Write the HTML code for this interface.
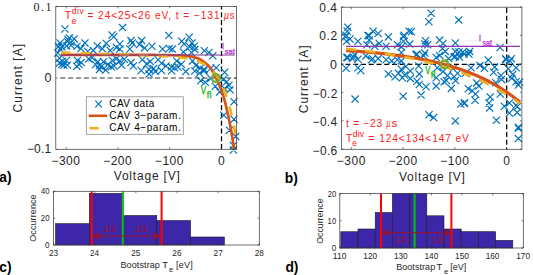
<!DOCTYPE html>
<html><head><meta charset="utf-8"><style>
html,body{margin:0;padding:0;background:#fff;width:533px;height:275px;overflow:hidden}
svg{display:block;font-family:"Liberation Sans", sans-serif}
</style></head><body>
<svg width="533" height="275" viewBox="0 0 533 275">
<defs><clipPath id="ca"><rect x="55.7" y="6.6" width="180.7" height="142.7"/></clipPath><clipPath id="cb"><rect x="341.5" y="7" width="180.8" height="142.3"/></clipPath></defs>
<line x1="58" y1="78" x2="236.4" y2="78" stroke="#7a7a7a" stroke-width="1.4" stroke-dasharray="5.1 2.8" stroke-dashoffset="5.7"/>
<line x1="221.5" y1="6.4" x2="221.5" y2="149.3" stroke="#000" stroke-width="1.25" stroke-dasharray="5 2.75" stroke-dashoffset="1.9"/>
<path d="M61.3 25.4L68.5 32.6M61.3 32.6L68.5 25.4M108.4 31.4L115.6 38.6M108.4 38.6L115.6 31.4M56.5 39.3L63.7 46.5M56.5 46.5L63.7 39.3M64.4 35.9L71.6 43.1M64.4 43.1L71.6 35.9M70.6 35.3L77.8 42.5M70.6 42.5L77.8 35.3M81.3 39.3L88.5 46.5M81.3 46.5L88.5 39.3M93.7 42.1L100.9 49.3M93.7 49.3L100.9 42.1M102.7 39.8L109.9 47M102.7 47L109.9 39.8M58.2 43.2L65.4 50.4M58.2 50.4L65.4 43.2M67.2 38.7L74.4 45.9M67.2 45.9L74.4 38.7M73.4 42.6L80.6 49.8M73.4 49.8L80.6 42.6M77.4 44.9L84.6 52.1M77.4 52.1L84.6 44.9M57 45.7L64.2 52.9M57 52.9L64.2 45.7M98.8 45.1L106 52.3M98.8 52.3L106 45.1M106.6 46.8L113.8 54M106.6 54L113.8 46.8M89.7 46.8L96.9 54M89.7 54L96.9 46.8M84.1 47.9L91.3 55.1M84.1 55.1L91.3 47.9M55.9 54.7L63.1 61.9M55.9 61.9L63.1 54.7M62.7 56.9L69.9 64.1M62.7 64.1L69.9 56.9M58.2 60.9L65.4 68.1M58.2 68.1L65.4 60.9M63.8 61.4L71 68.6M63.8 68.6L71 61.4M73.9 56.9L81.1 64.1M73.9 64.1L81.1 56.9M75.6 60.9L82.8 68.1M75.6 68.1L82.8 60.9M85.2 55.3L92.4 62.5M85.2 62.5L92.4 55.3M88.6 54.1L95.8 61.3M88.6 61.3L95.8 54.1M94.2 58.1L101.4 65.3M94.2 65.3L101.4 58.1M99.9 58.1L107.1 65.3M99.9 65.3L107.1 58.1M104.4 60.9L111.6 68.1M104.4 68.1L111.6 60.9M108.9 56.9L116.1 64.1M108.9 64.1L116.1 56.9M95.9 62L103.1 69.2M95.9 69.2L103.1 62M55.9 59.4L63.1 66.6M55.9 66.6L63.1 59.4M92 60.9L99.2 68.1M92 68.1L99.2 60.9M97.6 63.2L104.8 70.4M97.6 70.4L104.8 63.2M102.1 66.5L109.3 73.7M102.1 73.7L109.3 66.5M107.8 63.2L115 70.4M107.8 70.4L115 63.2M95.9 66L103.1 73.2M95.9 73.2L103.1 66M63.8 37.8L71 45M63.8 45L71 37.8M119 24L126.2 31.2M119 31.2L126.2 24M165.2 31.9L172.4 39.1M165.2 39.1L172.4 31.9M127.4 37L134.6 44.2M127.4 44.2L134.6 37M138.1 37L145.3 44.2M138.1 44.2L145.3 37M116.2 40.4L123.4 47.6M116.2 47.6L123.4 40.4M135.9 40.9L143.1 48.1M135.9 48.1L143.1 40.9M148.3 42.6L155.5 49.8M148.3 49.8L155.5 42.6M128.6 39.3L135.8 46.5M128.6 46.5L135.8 39.3M141 44.3L148.2 51.5M141 51.5L148.2 44.3M159 45.4L166.2 52.6M159 52.6L166.2 45.4M165.8 44.9L173 52.1M165.8 52.1L173 44.9M116.2 45.4L123.4 52.6M116.2 52.6L123.4 45.4M126.3 45.4L133.5 52.6M126.3 52.6L133.5 45.4M112.8 43.8L120 51M112.8 51L120 43.8M112.8 55.1L120 62.3M112.8 62.3L120 55.1M116.2 57.3L123.4 64.5M116.2 64.5L123.4 57.3M120.7 55.6L127.9 62.8M120.7 62.8L127.9 55.6M127.4 59L134.6 66.2M127.4 66.2L134.6 59M129.7 62.4L136.9 69.6M129.7 69.6L136.9 62.4M110.5 62.4L117.7 69.6M110.5 69.6L117.7 62.4M138.7 56.2L145.9 63.4M138.7 63.4L145.9 56.2M143.2 60.1L150.4 67.3M143.2 67.3L150.4 60.1M146.6 57.9L153.8 65.1M146.6 65.1L153.8 57.9M154.5 56.2L161.7 63.4M154.5 63.4L161.7 56.2M157.9 59.6L165.1 66.8M157.9 66.8L165.1 59.6M162.4 62.4L169.6 69.6M162.4 69.6L169.6 62.4M137.6 66.9L144.8 74.1M137.6 74.1L144.8 66.9M145.4 65.8L152.6 73M145.4 73L152.6 65.8M151.7 68L158.9 75.2M151.7 75.2L158.9 68M157.9 66.9L165.1 74.1M157.9 74.1L165.1 66.9M168 63.5L175.2 70.7M168 70.7L175.2 63.5M117.9 61.5L125.1 68.7M117.9 68.7L125.1 61.5M145.5 70.5L152.7 77.7M145.5 77.7L152.7 70.5M150 64.9L157.2 72.1M150 72.1L157.2 64.9M168 67.2L175.2 74.4M168 74.4L175.2 67.2M185.6 33.6L192.8 40.8M185.6 40.8L192.8 33.6M178.2 37.6L185.4 44.8M178.2 44.8L185.4 37.6M180.5 40.4L187.7 47.6M180.5 47.6L187.7 40.4M188.4 39.3L195.6 46.5M188.4 46.5L195.6 39.3M186.1 43.2L193.3 50.4M186.1 50.4L193.3 43.2M190.6 42.6L197.8 49.8M190.6 49.8L197.8 42.6M168.7 45.5L175.9 52.7M168.7 52.7L175.9 45.5M200.8 47.1L208 54.3M200.8 54.3L208 47.1M179.9 48.3L187.1 55.5M179.9 55.5L187.1 48.3M191.2 46L198.4 53.2M191.2 53.2L198.4 46M205.3 48.9L212.5 56.1M205.3 56.1L212.5 48.9M209.2 52.2L216.4 59.4M209.2 59.4L216.4 52.2M187.8 48.9L195 56.1M187.8 56.1L195 48.9M173.2 57.3L180.4 64.5M173.2 64.5L180.4 57.3M177.7 60.7L184.9 67.9M177.7 67.9L184.9 60.7M170.9 64.1L178.1 71.3M170.9 71.3L178.1 64.1M188.9 57.3L196.1 64.5M188.9 64.5L196.1 57.3M192.3 61.8L199.5 69M192.3 69L199.5 61.8M196.8 64.6L204 71.8M196.8 71.8L204 64.6M191.2 67.4L198.4 74.6M191.2 74.6L198.4 67.4M200.2 67.4L207.4 74.6M200.2 74.6L207.4 67.4M212.6 64.1L219.8 71.3M212.6 71.3L219.8 64.1M221.1 68.6L228.3 75.8M221.1 75.8L228.3 68.6M182.2 68L189.4 75.2M182.2 75.2L189.4 68M195.9 69.7L203.1 76.9M195.9 76.9L203.1 69.7M200.4 65.8L207.6 73M200.4 73L207.6 65.8M207.2 64.7L214.4 71.9M207.2 71.9L214.4 64.7M197.1 77.1L204.3 84.3M197.1 84.3L204.3 77.1M201.6 78.7L208.8 85.9M201.6 85.9L208.8 78.7M207.2 74.8L214.4 82M207.2 82L214.4 74.8M211.7 82.7L218.9 89.9M211.7 89.9L218.9 82.7M219.6 75.9L226.8 83.1M219.6 83.1L226.8 75.9M223 78.2L230.2 85.4M223 85.4L230.2 78.2M225.3 81.6L232.5 88.8M225.3 88.8L232.5 81.6M220.8 84.9L228 92.1M220.8 92.1L228 84.9M226.4 86.1L233.6 93.3M226.4 93.3L233.6 86.1M216.2 88.3L223.4 95.5M216.2 95.5L223.4 88.3M174.4 63.4L181.6 70.6M174.4 70.6L181.6 63.4M230.4 98.2L237.6 105.4M230.4 105.4L237.6 98.2M220.2 111.7L227.4 118.9M220.2 118.9L227.4 111.7M230.4 115.6L237.6 122.8M230.4 122.8L237.6 115.6M225.9 126.6L233.1 133.8M225.9 133.8L233.1 126.6M232.1 132.8L239.3 140M232.1 140L239.3 132.8M229.8 141.8L237 149M229.8 149L237 141.8M229.8 146.4L237 153.6M229.8 153.6L237 146.4M65.9 34.3L73.1 41.5M65.9 41.5L73.1 34.3M63 42.3L70.2 49.5M63 49.5L70.2 42.3M58.7 57.6L65.9 64.8M58.7 64.8L65.9 57.6M60.1 61.4L67.3 68.6M60.1 68.6L67.3 61.4M77.6 59L84.8 66.2M77.6 66.2L84.8 59M73.2 62.7L80.4 69.9M73.2 69.9L80.4 62.7M54.2 49.4L61.4 56.6M54.2 56.6L61.4 49.4M55 43L62.2 50.2M55 50.2L62.2 43M67.4 41.6L74.6 48.8M67.4 48.8L74.6 41.6M110.2 33.2L117.4 40.4M110.2 40.4L117.4 33.2" stroke="#0072bd" stroke-width="1.2" fill="none"/>
<g clip-path="url(#ca)"><path d="M61 54.9L61.5 54.9L62 54.9L62.5 54.9L63 54.9L63.5 54.9L64 54.9L64.5 54.9L65 54.9L65.5 54.9L66 54.9L66.5 54.9L67 54.9L67.5 54.9L68 54.9L68.5 54.9L69 54.9L69.5 54.9L70 54.9L70.5 54.9L71 54.9L71.5 54.9L72 54.9L72.5 54.9L73 54.9L73.5 54.9L74 54.9L74.5 54.9L75 54.9L75.5 54.9L76 54.9L76.5 54.9L77 54.9L77.5 54.9L78 54.9L78.5 54.9L79 54.9L79.5 54.9L80 54.9L80.5 54.9L81 54.9L81.5 54.9L82 54.9L82.5 54.9L83 54.9L83.5 54.9L84 54.9L84.5 54.9L85 54.9L85.5 54.9L86 54.9L86.5 54.9L87 54.9L87.5 54.9L88 54.9L88.5 54.9L89 54.9L89.5 54.9L90 54.9L90.5 54.9L91 54.9L91.5 54.9L92 54.9L92.5 54.9L93 54.91L93.5 54.91L94 54.91L94.5 54.91L95 54.91L95.5 54.91L96 54.91L96.5 54.91L97 54.91L97.5 54.91L98 54.91L98.5 54.91L99 54.91L99.5 54.91L100 54.91L100.5 54.91L101 54.91L101.5 54.91L102 54.91L102.5 54.91L103 54.91L103.5 54.91L104 54.91L104.5 54.91L105 54.91L105.5 54.91L106 54.91L106.5 54.91L107 54.91L107.5 54.91L108 54.91L108.5 54.91L109 54.91L109.5 54.91L110 54.91L110.5 54.91L111 54.91L111.5 54.91L112 54.91L112.5 54.91L113 54.91L113.5 54.92L114 54.92L114.5 54.92L115 54.92L115.5 54.92L116 54.92L116.5 54.92L117 54.92L117.5 54.92L118 54.92L118.5 54.92L119 54.92L119.5 54.92L120 54.92L120.5 54.92L121 54.92L121.5 54.92L122 54.92L122.5 54.92L123 54.92L123.5 54.92L124 54.92L124.5 54.92L125 54.92L125.5 54.92L126 54.92L126.5 54.92L127 54.93L127.5 54.93L128 54.93L128.5 54.93L129 54.93L129.5 54.93L130 54.93L130.5 54.93L131 54.93L131.5 54.93L132 54.93L132.5 54.93L133 54.93L133.5 54.93L134 54.93L134.5 54.93L135 54.93L135.5 54.93L136 54.93L136.5 54.93L137 54.93L137.5 54.94L138 54.94L138.5 54.94L139 54.94L139.5 54.94L140 54.94L140.5 54.94L141 54.94L141.5 54.94L142 54.94L142.5 54.94L143 54.94L143.5 54.94L144 54.94L144.5 54.94L145 54.94L145.5 54.94L146 54.94L146.5 54.95L147 54.95L147.5 54.95L148 54.95L148.5 54.95L149 54.95L149.5 54.95L150 54.95L150.5 54.95L151 54.95L151.5 54.95L152 54.96L152.5 54.96L153 54.96L153.5 54.96L154 54.96L154.5 54.97L155 54.97L155.5 54.98L156 54.98L156.5 54.98L157 54.99L157.5 54.99L158 55L158.5 55L159 55.01L159.5 55.01L160 55.02L160.5 55.03L161 55.03L161.5 55.04L162 55.05L162.5 55.05L163 55.06L163.5 55.07L164 55.08L164.5 55.09L165 55.09L165.5 55.1L166 55.11L166.5 55.12L167 55.13L167.5 55.14L168 55.15L168.5 55.16L169 55.17L169.5 55.18L170 55.19L170.5 55.2L171 55.21L171.5 55.22L172 55.23L172.5 55.24L173 55.25L173.5 55.26L174 55.28L174.5 55.29L175 55.3L175.5 55.31L176 55.33L176.5 55.34L177 55.36L177.5 55.38L178 55.39L178.5 55.41L179 55.44L179.5 55.46L180 55.48L180.5 55.51L181 55.54L181.5 55.56L182 55.59L182.5 55.62L183 55.66L183.5 55.69L184 55.73L184.5 55.76L185 55.8L185.5 55.84L186 55.89L186.5 55.94L187 55.99L187.5 56.05L188 56.11L188.5 56.18L189 56.25L189.5 56.33L190 56.41L190.5 56.49L191 56.58L191.5 56.67L192 56.77L192.5 56.87L193 56.98L193.5 57.09L194 57.21L194.5 57.33L195 57.45L195.5 57.58L196 57.72L196.5 57.86L197 58L197.5 58.16L198 58.34L198.5 58.55L199 58.79L199.5 59.04L200 59.32L200.5 59.61L201 59.92L201.5 60.25L202 60.59L202.5 60.94L203 61.3L203.5 61.67L204 62.05L204.5 62.43L205 62.82L205.5 63.21L206 63.6L206.5 64L207 64.42L207.5 64.86L208 65.33L208.5 65.83L209 66.35L209.5 66.91L210 67.5L210.5 68.14L211 68.83L211.5 69.57L212 70.36L212.5 71.19L213 72.05L213.5 72.95L214 73.88L214.5 74.83L215 75.81L215.5 76.8L216 77.8L216.5 78.81L217 79.85L217.5 80.91L218 81.99L218.5 83.11L219 84.25L219.5 85.44L220 86.66L220.5 87.93L221 89.24L221.5 90.6L222 92.01L222.5 93.47L223 95L223.5 96.6L224 98.3L224.5 100.08L225 101.94L225.5 103.89L226 105.91L226.5 108.01L227 110.18L227.5 112.42L228 114.71L228.5 117.07L229 119.49L229.5 121.95L230 124.47L230.5 127.04L231 129.78L231.5 132.68L232 135.72L232.5 138.88L233 142.13L233.5 145.44L234 148.8L234.5 152.32L235 156" stroke="#d95319" stroke-width="2.7" fill="none"/><path d="M61 52.5L61.5 52.52L62 52.53L62.5 52.55L63 52.57L63.5 52.58L64 52.6L64.5 52.62L65 52.63L65.5 52.65L66 52.67L66.5 52.68L67 52.7L67.5 52.71L68 52.73L68.5 52.75L69 52.76L69.5 52.78L70 52.8L70.5 52.81L71 52.83L71.5 52.85L72 52.86L72.5 52.88L73 52.9L73.5 52.91L74 52.93L74.5 52.95L75 52.96L75.5 52.98L76 53L76.5 53.01L77 53.03L77.5 53.04L78 53.06L78.5 53.08L79 53.09L79.5 53.11L80 53.13L80.5 53.14L81 53.16L81.5 53.18L82 53.19L82.5 53.21L83 53.23L83.5 53.24L84 53.26L84.5 53.28L85 53.29L85.5 53.31L86 53.33L86.5 53.34L87 53.36L87.5 53.38L88 53.39L88.5 53.41L89 53.42L89.5 53.44L90 53.46L90.5 53.47L91 53.49L91.5 53.51L92 53.52L92.5 53.54L93 53.56L93.5 53.57L94 53.59L94.5 53.61L95 53.62L95.5 53.64L96 53.66L96.5 53.67L97 53.69L97.5 53.71L98 53.72L98.5 53.74L99 53.76L99.5 53.77L100 53.79L100.5 53.81L101 53.82L101.5 53.84L102 53.86L102.5 53.87L103 53.89L103.5 53.91L104 53.92L104.5 53.94L105 53.96L105.5 53.97L106 53.99L106.5 54.01L107 54.02L107.5 54.04L108 54.06L108.5 54.07L109 54.09L109.5 54.11L110 54.12L110.5 54.14L111 54.16L111.5 54.17L112 54.19L112.5 54.21L113 54.22L113.5 54.24L114 54.26L114.5 54.27L115 54.29L115.5 54.31L116 54.32L116.5 54.34L117 54.36L117.5 54.37L118 54.39L118.5 54.41L119 54.42L119.5 54.44L120 54.46L120.5 54.47L121 54.49L121.5 54.51L122 54.53L122.5 54.54L123 54.56L123.5 54.58L124 54.59L124.5 54.61L125 54.63L125.5 54.64L126 54.66L126.5 54.68L127 54.7L127.5 54.71L128 54.73L128.5 54.75L129 54.77L129.5 54.78L130 54.8L130.5 54.82L131 54.83L131.5 54.85L132 54.87L132.5 54.89L133 54.9L133.5 54.92L134 54.94L134.5 54.96L135 54.98L135.5 54.99L136 55.01L136.5 55.03L137 55.05L137.5 55.07L138 55.08L138.5 55.1L139 55.12L139.5 55.14L140 55.16L140.5 55.17L141 55.19L141.5 55.21L142 55.23L142.5 55.25L143 55.27L143.5 55.29L144 55.31L144.5 55.33L145 55.34L145.5 55.36L146 55.38L146.5 55.4L147 55.42L147.5 55.44L148 55.46L148.5 55.48L149 55.5L149.5 55.52L150 55.54L150.5 55.56L151 55.59L151.5 55.61L152 55.63L152.5 55.65L153 55.67L153.5 55.69L154 55.71L154.5 55.74L155 55.76L155.5 55.78L156 55.8L156.5 55.83L157 55.85L157.5 55.87L158 55.9L158.5 55.92L159 55.95L159.5 55.97L160 56L160.5 56.02L161 56.05L161.5 56.07L162 56.1L162.5 56.13L163 56.16L163.5 56.18L164 56.21L164.5 56.24L165 56.27L165.5 56.3L166 56.33L166.5 56.36L167 56.39L167.5 56.42L168 56.46L168.5 56.49L169 56.52L169.5 56.56L170 56.59L170.5 56.63L171 56.67L171.5 56.7L172 56.74L172.5 56.78L173 56.82L173.5 56.86L174 56.9L174.5 56.95L175 56.99L175.5 57.04L176 57.08L176.5 57.13L177 57.18L177.5 57.23L178 57.28L178.5 57.33L179 57.39L179.5 57.44L180 57.5L180.5 57.56L181 57.62L181.5 57.68L182 57.74L182.5 57.81L183 57.88L183.5 57.95L184 58.02L184.5 58.09L185 58.17L185.5 58.25L186 58.33L186.5 58.41L187 58.5L187.5 58.58L188 58.68L188.5 58.77L189 58.87L189.5 58.97L190 59.07L190.5 59.18L191 59.29L191.5 59.4L192 59.52L192.5 59.64L193 59.77L193.5 59.9L194 60.04L194.5 60.18L195 60.32L195.5 60.47L196 60.63L196.5 60.79L197 60.95L197.5 61.13L198 61.3L198.5 61.49L199 61.68L199.5 61.88L200 62.08L200.5 62.29L201 62.51L201.5 62.74L202 62.98L202.5 63.22L203 63.48L203.5 63.74L204 64.01L204.5 64.3L205 64.59L205.5 64.89L206 65.21L206.5 65.54L207 65.88L207.5 66.23L208 66.59L208.5 66.97L209 67.36L209.5 67.77L210 68.2L210.5 68.63L211 69.09L211.5 69.56L212 70.05L212.5 70.56L213 71.09L213.5 71.64L214 72.21L214.5 72.8L215 73.42L215.5 74.05L216 74.72L216.5 75.4L217 76.12L217.5 76.86L218 77.63L218.5 78.42L219 79.25L219.5 80.11L220 81.01L220.5 81.94L221 82.9L221.5 83.9L222 84.94L222.5 86.02L223 87.15L223.5 88.31L224 89.52L224.5 90.78L225 92.08L225.5 93.44L226 94.85L226.5 96.31L227 97.83L227.5 99.41L228 101.05L228.5 102.76L229 104.53L229.5 106.37L230 108.28L230.5 110.26L231 112.33L231.5 114.47L232 116.69L232.5 119.01L233 121.41L233.5 123.9L234 126.5L234.5 129.19L235 131.99L235.5 134.9L236 137.92L236.5 141.06L237 144.32L237.5 147.71L238 151.23L238.5 154.89L239 158.69L239.5 162.64L240 166.75L240.5 171.01" stroke="#edb120" stroke-width="2.6" fill="none" stroke-dasharray="9.5 10"/></g>
<line x1="61" y1="54.9" x2="234.8" y2="54.9" stroke="#7e2f8e" stroke-width="2" stroke-opacity="0.5"/>
<circle cx="215.9" cy="78.1" r="3.9" fill="none" stroke="#77ac30" stroke-width="2.4"/>
<rect x="55.8" y="6.4" width="180.6" height="142.9" fill="none" stroke="#404040" stroke-width="0.75"/>
<line x1="66.21" y1="149.3" x2="66.21" y2="147.3" stroke="#262626" stroke-width="0.6"/>
<line x1="66.21" y1="6.4" x2="66.21" y2="8.4" stroke="#262626" stroke-width="0.6"/>
<line x1="117.94" y1="149.3" x2="117.94" y2="147.3" stroke="#262626" stroke-width="0.6"/>
<line x1="117.94" y1="6.4" x2="117.94" y2="8.4" stroke="#262626" stroke-width="0.6"/>
<line x1="169.67" y1="149.3" x2="169.67" y2="147.3" stroke="#262626" stroke-width="0.6"/>
<line x1="169.67" y1="6.4" x2="169.67" y2="8.4" stroke="#262626" stroke-width="0.6"/>
<line x1="221.4" y1="149.3" x2="221.4" y2="147.3" stroke="#262626" stroke-width="0.6"/>
<line x1="221.4" y1="6.4" x2="221.4" y2="8.4" stroke="#262626" stroke-width="0.6"/>
<line x1="55.8" y1="6.55" x2="57.8" y2="6.55" stroke="#262626" stroke-width="0.6"/>
<line x1="236.4" y1="6.55" x2="234.4" y2="6.55" stroke="#262626" stroke-width="0.6"/>
<line x1="55.8" y1="78" x2="57.8" y2="78" stroke="#262626" stroke-width="0.6"/>
<line x1="236.4" y1="78" x2="234.4" y2="78" stroke="#262626" stroke-width="0.6"/>
<line x1="55.8" y1="149.45" x2="57.8" y2="149.45" stroke="#262626" stroke-width="0.6"/>
<line x1="236.4" y1="149.45" x2="234.4" y2="149.45" stroke="#262626" stroke-width="0.6"/>
<text x="51.41" y="164.5" font-size="12" fill="#262626" textLength="28.55" lengthAdjust="spacing">−300</text>
<text x="103.14" y="164.5" font-size="12" fill="#262626" textLength="28.55" lengthAdjust="spacing">−200</text>
<text x="154.87" y="164.5" font-size="12" fill="#262626" textLength="28.55" lengthAdjust="spacing">−100</text>
<text x="218.02" y="164.5" font-size="12" fill="#262626" textLength="6.72" lengthAdjust="spacingAndGlyphs">0</text>
<text x="33.52" y="10.5" font-size="12" fill="#262626" font-family="Liberation Serif, serif" textLength="18.1" lengthAdjust="spacing">0.1</text>
<text x="44.6" y="82.1" font-size="12" fill="#262626" textLength="6.95" lengthAdjust="spacingAndGlyphs">0</text>
<text x="26.9" y="153.4" font-size="12" fill="#262626" textLength="24.23" lengthAdjust="spacing">−0.1</text>
<text x="0" y="0" font-size="12" fill="#262626" textLength="68.6" lengthAdjust="spacing" transform="translate(22.4 112.5) rotate(-90)">Current [A]</text>
<text x="113.74" y="180.3" font-size="12" fill="#262626" textLength="66.12" lengthAdjust="spacing">Voltage [V]</text>
<text x="64.78" y="18.6" font-size="10.2" fill="#ff2020" textLength="6.64" lengthAdjust="spacingAndGlyphs">T</text>
<text x="71.66" y="14" font-size="8.6" fill="#ff2020" textLength="12.17" lengthAdjust="spacing">div</text>
<text x="71.64" y="23.7" font-size="8.6" fill="#ff2020" textLength="4.97" lengthAdjust="spacingAndGlyphs">e</text>
<text x="87.49" y="18.6" font-size="10.2" fill="#ff2020" textLength="132.08" lengthAdjust="spacing">= 24&lt;25&lt;26 eV, t = −131</text>
<text x="224.08" y="18.6" font-size="10.2" fill="#ff2020" font-style="italic" textLength="4.98" lengthAdjust="spacingAndGlyphs">μ</text>
<text x="229.72" y="18.6" font-size="10.2" fill="#ff2020" textLength="4.71" lengthAdjust="spacingAndGlyphs">s</text>
<text x="221.63" y="49.2" font-size="8.6" fill="#c13fd6" stroke="#c13fd6" stroke-width="0.35" textLength="2.39" lengthAdjust="spacingAndGlyphs">I</text>
<text x="224.67" y="53.7" font-size="8" fill="#c13fd6" stroke="#c13fd6" stroke-width="0.35" textLength="10.1" lengthAdjust="spacingAndGlyphs">sat</text>
<text x="200.66" y="94" font-size="10" fill="#22bb22" stroke="#22bb22" stroke-width="0.35" textLength="5.5" lengthAdjust="spacingAndGlyphs">V</text>
<text x="206.67" y="98" font-size="8.8" fill="#22bb22" stroke="#22bb22" stroke-width="0.35" textLength="4.9" lengthAdjust="spacing">fl</text>
<rect x="86.3" y="96.8" width="97" height="37.5" fill="#fff" stroke="#8c8c8c" stroke-width="0.8"/>
<path d="M95.3 100.7L101.9 107.3M95.3 107.3L101.9 100.7" stroke="#0072bd" stroke-width="1.2" fill="none"/>
<line x1="88.7" y1="115.8" x2="107.2" y2="115.8" stroke="#d95319" stroke-width="2.6"/>
<line x1="89.5" y1="128.2" x2="98.8" y2="128.2" stroke="#edb120" stroke-width="2.6"/>
<text x="109.3" y="106.8" font-size="10" fill="#000" textLength="44.91" lengthAdjust="spacing">CAV data</text>
<text x="109.3" y="119.3" font-size="10" fill="#000" textLength="71.42" lengthAdjust="spacing">CAV 3−param.</text>
<text x="109.3" y="131.3" font-size="10" fill="#000" textLength="71.42" lengthAdjust="spacing">CAV 4−param.</text>
<text x="-0.69" y="182.4" font-size="13.8" fill="#000" font-weight="bold" textLength="12.27" lengthAdjust="spacing">a)</text>
<line x1="341.5" y1="64.4" x2="521.9" y2="64.4" stroke="#000" stroke-width="1.25" stroke-dasharray="5 2.75" stroke-dashoffset="3.75"/>
<line x1="506.7" y1="7.2" x2="506.7" y2="149.3" stroke="#000" stroke-width="1.25" stroke-dasharray="5 2.75" stroke-dashoffset="6.95"/>
<path d="M344.2 23.7L351.4 30.9M344.2 30.9L351.4 23.7M343.6 27.6L350.8 34.8M343.6 34.8L350.8 27.6M342.5 31.6L349.7 38.8M342.5 38.8L349.7 31.6M369.5 27.6L376.7 34.8M369.5 34.8L376.7 27.6M374.6 29.9L381.8 37.1M374.6 37.1L381.8 29.9M365.6 32.1L372.8 39.3M365.6 39.3L372.8 32.1M384.8 33.3L392 40.5M384.8 40.5L392 33.3M341.9 33.2L349.1 40.4M341.9 40.4L349.1 33.2M343 37.7L350.2 44.9M343 44.9L350.2 37.7M346.4 35.4L353.6 42.6M346.4 42.6L353.6 35.4M354.3 37.7L361.5 44.9M354.3 44.9L361.5 37.7M364.4 32L371.6 39.2M364.4 39.2L371.6 32M365.6 36.5L372.8 43.7M365.6 43.7L372.8 36.5M363.3 41.1L370.5 48.3M363.3 48.3L370.5 41.1M371.2 42.7L378.4 49.9M371.2 49.9L378.4 42.7M375.7 39.9L382.9 47.1M375.7 47.1L382.9 39.9M382.5 42.7L389.7 49.9M382.5 49.9L389.7 42.7M393.8 41.1L401 48.3M393.8 48.3L401 41.1M344.2 54L351.4 61.2M344.2 61.2L351.4 54M349.8 53.5L357 60.7M349.8 60.7L357 53.5M362.2 52.3L369.4 59.5M362.2 59.5L369.4 52.3M369 55.1L376.2 62.3M369 62.3L376.2 55.1M343 53.9L350.2 61.1M343 61.1L350.2 53.9M348.7 55L355.9 62.2M348.7 62.2L355.9 55M342.5 64.6L349.7 71.8M342.5 71.8L349.7 64.6M354.3 64.1L361.5 71.3M354.3 71.3L361.5 64.1M357.1 66.9L364.3 74.1M357.1 74.1L364.3 66.9M354.3 55.6L361.5 62.8M354.3 62.8L361.5 55.6M367.8 56.2L375 63.4M367.8 63.4L375 56.2M374.6 55L381.8 62.2M374.6 62.2L381.8 55M382.5 56.2L389.7 63.4M382.5 63.4L389.7 56.2M388.1 57.3L395.3 64.5M388.1 64.5L395.3 57.3M393.8 56.2L401 63.4M393.8 63.4L401 56.2M384.8 70.3L392 77.5M384.8 77.5L392 70.3M391.5 73.1L398.7 80.3M391.5 80.3L398.7 73.1M394.9 69.7L402.1 76.9M394.9 76.9L402.1 69.7M350.9 51.1L358.1 58.3M350.9 58.3L358.1 51.1M351.5 95.5L358.7 102.7M351.5 102.7L358.7 95.5M399.5 92.6L406.7 99.8M399.5 99.8L406.7 92.6M417.5 91.5L424.7 98.7M417.5 98.7L424.7 91.5M425.4 111.2L432.6 118.4M425.4 118.4L432.6 111.2M430 114L437.2 121.2M430 121.2L437.2 114M427.5 9.6L434.7 16.8M427.5 16.8L434.7 9.6M425.3 18.1L432.5 25.3M425.3 25.3L432.5 18.1M455.1 16.3L462.3 23.5M455.1 23.5L462.3 16.3M405.5 27.6L412.7 34.8M405.5 34.8L412.7 27.6M407.8 28.2L415 35.4M407.8 35.4L415 28.2M400.5 31.6L407.7 38.8M400.5 38.8L407.7 31.6M399.9 33.2L407.1 40.4M399.9 40.4L407.1 33.2M399.9 37.7L407.1 44.9M399.9 44.9L407.1 37.7M406.1 40.5L413.3 47.7M406.1 47.7L413.3 40.5M397.7 43.3L404.9 50.5M397.7 50.5L404.9 43.3M421.9 37.1L429.1 44.3M421.9 44.3L429.1 37.1M421.3 40.5L428.5 47.7M421.3 47.7L428.5 40.5M424.1 41.1L431.3 48.3M424.1 48.3L431.3 41.1M436 36.5L443.2 43.7M436 43.7L443.2 36.5M439.4 39.9L446.6 47.1M439.4 47.1L446.6 39.9M451.8 39.4L459 46.6M451.8 46.6L459 39.4M438.8 45L446 52.2M438.8 52.2L446 45M441.6 47.8L448.8 55M441.6 55L448.8 47.8M436 51.8L443.2 59M436 59L443.2 51.8M413.4 50.6L420.6 57.8M413.4 57.8L420.6 50.6M421.3 49.5L428.5 56.7M421.3 56.7L428.5 49.5M451.8 47.8L459 55M451.8 55L459 47.8M450.6 53.5L457.8 60.7M450.6 60.7L457.8 53.5M397.7 48.9L404.9 56.1M397.7 56.1L404.9 48.9M397.7 57.3L404.9 64.5M397.7 64.5L404.9 57.3M402.2 62.9L409.4 70.1M402.2 70.1L409.4 62.9M397.7 65.7L404.9 72.9M397.7 72.9L404.9 65.7M406.7 67.4L413.9 74.6M406.7 74.6L413.9 67.4M401 71.4L408.2 78.6M401 78.6L408.2 71.4M406.7 74.8L413.9 82M406.7 82L413.9 74.8M412.3 51.1L419.5 58.3M412.3 58.3L419.5 51.1M420.2 52.2L427.4 59.4M420.2 59.4L427.4 52.2M415.1 62.4L422.3 69.6M415.1 69.6L422.3 62.4M415.7 70.3L422.9 77.5M415.7 77.5L422.9 70.3M432.6 53.9L439.8 61.1M432.6 61.1L439.8 53.9M433.7 64.1L440.9 71.3M433.7 71.3L440.9 64.1M439.4 68L446.6 75.2M439.4 75.2L446.6 68M432.6 74.2L439.8 81.4M432.6 81.4L439.8 74.2M445 55L452.2 62.2M445 62.2L452.2 55M451.8 52.8L459 60M451.8 60L459 52.8M449.5 65.2L456.7 72.4M449.5 72.4L456.7 65.2M443.9 71.9L451.1 79.1M443.9 79.1L451.1 71.9M450.6 73.1L457.8 80.3M450.6 80.3L457.8 73.1M454 69.7L461.2 76.9M454 76.9L461.2 69.7M440.5 78.1L447.7 85.3M440.5 85.3L447.7 78.1M413.4 77.6L420.6 84.8M413.4 84.8L420.6 77.6M398.8 74.1L406 81.3M398.8 81.3L406 74.1M415.7 80.9L422.9 88.1M415.7 88.1L422.9 80.9M422.5 83.1L429.7 90.3M422.5 90.3L429.7 83.1M432.6 82.5L439.8 89.7M432.6 89.7L439.8 82.5M442.8 76.9L450 84.1M442.8 84.1L450 76.9M451.8 76.9L459 84.1M451.8 84.1L459 76.9M447.8 84.8L455 92M447.8 92L455 84.8M464.7 85.2L471.9 92.4M464.7 92.4L471.9 85.2M457.1 100.4L464.3 107.6M457.1 107.6L464.3 100.4M460.9 99.2L468.1 106.4M460.9 106.4L468.1 99.2M451.8 117.3L459 124.5M451.8 124.5L459 117.3M496.5 43.9L503.7 51.1M496.5 51.1L503.7 43.9M455.4 48.4L462.6 55.6M455.4 55.6L462.6 48.4M459.3 48.4L466.5 55.6M459.3 55.6L466.5 48.4M466.1 47.8L473.3 55M466.1 55L473.3 47.8M455.9 53.5L463.1 60.7M455.9 60.7L463.1 53.5M484.7 56.3L491.9 63.5M484.7 63.5L491.9 56.3M502.1 55.1L509.3 62.3M502.1 62.3L509.3 55.1M507.8 55.1L515 62.3M507.8 62.3L515 55.1M460.7 50.5L467.9 57.7M460.7 57.7L467.9 50.5M465.2 50.5L472.4 57.7M465.2 57.7L472.4 50.5M467.4 64.1L474.6 71.3M467.4 71.3L474.6 64.1M461.8 69.7L469 76.9M461.8 76.9L469 69.7M476.4 61.8L483.6 69M476.4 69L483.6 61.8M480.9 64.6L488.1 71.8M480.9 71.8L488.1 64.6M491.1 63.5L498.3 70.7M491.1 70.7L498.3 63.5M490 68.6L497.2 75.8M490 75.8L497.2 68.6M497.3 71.9L504.5 79.1M497.3 79.1L504.5 71.9M502.4 56.2L509.6 63.4M502.4 63.4L509.6 56.2M506.3 57.3L513.5 64.5M506.3 64.5L513.5 57.3M504.6 65.2L511.8 72.4M504.6 72.4L511.8 65.2M512.5 64.1L519.7 71.3M512.5 71.3L519.7 64.1M509.1 70.8L516.3 78M509.1 78L516.3 70.8M512.5 78.1L519.7 85.3M512.5 85.3L519.7 78.1M473.1 79.3L480.3 86.5M473.1 86.5L480.3 79.3M468.5 87.1L475.7 94.3M468.5 94.3L475.7 87.1M475.3 82.5L482.5 89.7M475.3 89.7L482.5 82.5M471.9 90.4L479.1 97.6M471.9 97.6L479.1 90.4M471.4 96.6L478.6 103.8M471.4 103.8L478.6 96.6M486.6 93.3L493.8 100.5M486.6 100.5L493.8 93.3M485.4 99.4L492.6 106.6M485.4 106.6L492.6 99.4M496.7 90.4L503.9 97.6M496.7 97.6L503.9 90.4M497.9 75.8L505.1 83M497.9 83L505.1 75.8M492.2 79.2L499.4 86.4M492.2 86.4L499.4 79.2M505.8 99.4L513 106.6M505.8 106.6L513 99.4M508 74.7L515.2 81.9M508 81.9L515.2 74.7M514.8 81.4L522 88.6M514.8 88.6L522 81.4M515.9 78.6L523.1 85.8M515.9 85.8L523.1 78.6M512.5 101.7L519.7 108.9M512.5 108.9L519.7 101.7M460.7 99.8L467.9 107M460.7 107L467.9 99.8M486 104.3L493.2 111.5M486 111.5L493.2 104.3M500.7 102.6L507.9 109.8M500.7 109.8L507.9 102.6M505.8 109.4L513 116.6M505.8 116.6L513 109.4M513.6 103.2L520.8 110.4M513.6 110.4L520.8 103.2M513.6 108.8L520.8 116M513.6 116L520.8 108.8M492.8 116.7L500 123.9M492.8 123.9L500 116.7M514.8 123.7L522 130.9M514.8 130.9L522 123.7M514.8 124.7L522 131.9M514.8 131.9L522 124.7M514.8 135L522 142.2M514.8 142.2L522 135" stroke="#0072bd" stroke-width="1.2" fill="none"/>
<line x1="346" y1="46.4" x2="520" y2="46.4" stroke="#8f35b5" stroke-width="1.1"/>
<g clip-path="url(#cb)"><path d="M346 50.56L346.5 50.59L347 50.62L347.5 50.65L348 50.68L348.5 50.71L349 50.75L349.5 50.78L350 50.81L350.5 50.84L351 50.88L351.5 50.91L352 50.94L352.5 50.98L353 51.01L353.5 51.05L354 51.08L354.5 51.12L355 51.15L355.5 51.19L356 51.22L356.5 51.26L357 51.3L357.5 51.33L358 51.37L358.5 51.41L359 51.44L359.5 51.48L360 51.52L360.5 51.56L361 51.6L361.5 51.64L362 51.68L362.5 51.72L363 51.76L363.5 51.8L364 51.84L364.5 51.88L365 51.92L365.5 51.96L366 52L366.5 52.04L367 52.08L367.5 52.13L368 52.17L368.5 52.21L369 52.26L369.5 52.3L370 52.35L370.5 52.39L371 52.43L371.5 52.48L372 52.53L372.5 52.57L373 52.62L373.5 52.66L374 52.71L374.5 52.76L375 52.81L375.5 52.85L376 52.9L376.5 52.95L377 53L377.5 53.05L378 53.1L378.5 53.15L379 53.2L379.5 53.25L380 53.3L380.5 53.35L381 53.41L381.5 53.46L382 53.51L382.5 53.56L383 53.62L383.5 53.67L384 53.73L384.5 53.78L385 53.84L385.5 53.89L386 53.95L386.5 54.01L387 54.06L387.5 54.12L388 54.18L388.5 54.24L389 54.29L389.5 54.35L390 54.41L390.5 54.47L391 54.53L391.5 54.59L392 54.66L392.5 54.72L393 54.78L393.5 54.84L394 54.91L394.5 54.97L395 55.03L395.5 55.1L396 55.16L396.5 55.23L397 55.3L397.5 55.36L398 55.43L398.5 55.5L399 55.57L399.5 55.63L400 55.7L400.5 55.77L401 55.84L401.5 55.91L402 55.98L402.5 56.06L403 56.13L403.5 56.2L404 56.28L404.5 56.35L405 56.42L405.5 56.5L406 56.57L406.5 56.65L407 56.73L407.5 56.8L408 56.88L408.5 56.96L409 57.04L409.5 57.12L410 57.2L410.5 57.28L411 57.36L411.5 57.44L412 57.53L412.5 57.61L413 57.7L413.5 57.78L414 57.86L414.5 57.95L415 58.04L415.5 58.12L416 58.21L416.5 58.3L417 58.39L417.5 58.48L418 58.57L418.5 58.66L419 58.75L419.5 58.85L420 58.94L420.5 59.03L421 59.13L421.5 59.22L422 59.32L422.5 59.42L423 59.51L423.5 59.61L424 59.71L424.5 59.81L425 59.91L425.5 60.01L426 60.11L426.5 60.22L427 60.32L427.5 60.42L428 60.53L428.5 60.64L429 60.74L429.5 60.85L430 60.96L430.5 61.07L431 61.18L431.5 61.29L432 61.4L432.5 61.51L433 61.62L433.5 61.74L434 61.85L434.5 61.97L435 62.09L435.5 62.2L436 62.32L436.5 62.44L437 62.56L437.5 62.68L438 62.8L438.5 62.93L439 63.05L439.5 63.17L440 63.3L440.5 63.43L441 63.55L441.5 63.68L442 63.81L442.5 63.94L443 64.07L443.5 64.21L444 64.34L444.5 64.47L445 64.61L445.5 64.75L446 64.88L446.5 65.02L447 65.16L447.5 65.3L448 65.44L448.5 65.59L449 65.73L449.5 65.88L450 66.02L450.5 66.17L451 66.32L451.5 66.47L452 66.62L452.5 66.77L453 66.92L453.5 67.07L454 67.23L454.5 67.38L455 67.54L455.5 67.7L456 67.86L456.5 68.02L457 68.18L457.5 68.35L458 68.51L458.5 68.68L459 68.84L459.5 69.01L460 69.18L460.5 69.35L461 69.52L461.5 69.7L462 69.87L462.5 70.05L463 70.22L463.5 70.4L464 70.58L464.5 70.76L465 70.94L465.5 71.13L466 71.31L466.5 71.5L467 71.69L467.5 71.88L468 72.07L468.5 72.26L469 72.45L469.5 72.65L470 72.85L470.5 73.04L471 73.24L471.5 73.44L472 73.65L472.5 73.85L473 74.06L473.5 74.26L474 74.47L474.5 74.68L475 74.9L475.5 75.11L476 75.32L476.5 75.54L477 75.76L477.5 75.98L478 76.2L478.5 76.42L479 76.65L479.5 76.87L480 77.1L480.5 77.33L481 77.56L481.5 77.8L482 78.03L482.5 78.27L483 78.51L483.5 78.75L484 78.99L484.5 79.24L485 79.48L485.5 79.73L486 79.98L486.5 80.23L487 80.48L487.5 80.74L488 81L488.5 81.26L489 81.52L489.5 81.78L490 82.05L490.5 82.31L491 82.58L491.5 82.85L492 83.13L492.5 83.4L493 83.68L493.5 83.96L494 84.24L494.5 84.52L495 84.81L495.5 85.09L496 85.38L496.5 85.68L497 85.97L497.5 86.27L498 86.57L498.5 86.87L499 87.17L499.5 87.48L500 87.78L500.5 88.09L501 88.41L501.5 88.72L502 89.04L502.5 89.36L503 89.68L503.5 90L504 90.33L504.5 90.66L505 90.99L505.5 91.32L506 91.66L506.5 92L507 92.34L507.5 92.68L508 93.03L508.5 93.38L509 93.73L509.5 94.09L510 94.44L510.5 94.8L511 95.17L511.5 95.53L512 95.9L512.5 96.27L513 96.64L513.5 97.02L514 97.4L514.5 97.78L515 98.17L515.5 98.55L516 98.95L516.5 99.34L517 99.74L517.5 100.13L518 100.54L518.5 100.94L519 101.35L519.5 101.76L520 102.18" stroke="#d95319" stroke-width="3.2" fill="none"/><path d="M346 48.79L346.5 48.84L347 48.89L347.5 48.95L348 49L348.5 49.05L349 49.1L349.5 49.15L350 49.2L350.5 49.26L351 49.31L351.5 49.36L352 49.41L352.5 49.47L353 49.52L353.5 49.58L354 49.63L354.5 49.69L355 49.74L355.5 49.8L356 49.85L356.5 49.91L357 49.97L357.5 50.02L358 50.08L358.5 50.14L359 50.19L359.5 50.25L360 50.31L360.5 50.37L361 50.43L361.5 50.49L362 50.55L362.5 50.61L363 50.67L363.5 50.73L364 50.79L364.5 50.85L365 50.91L365.5 50.98L366 51.04L366.5 51.1L367 51.16L367.5 51.23L368 51.29L368.5 51.36L369 51.42L369.5 51.49L370 51.55L370.5 51.62L371 51.68L371.5 51.75L372 51.82L372.5 51.88L373 51.95L373.5 52.02L374 52.09L374.5 52.16L375 52.23L375.5 52.3L376 52.37L376.5 52.44L377 52.51L377.5 52.58L378 52.65L378.5 52.72L379 52.8L379.5 52.87L380 52.94L380.5 53.02L381 53.09L381.5 53.16L382 53.24L382.5 53.31L383 53.39L383.5 53.47L384 53.54L384.5 53.62L385 53.7L385.5 53.78L386 53.85L386.5 53.93L387 54.01L387.5 54.09L388 54.17L388.5 54.25L389 54.34L389.5 54.42L390 54.5L390.5 54.58L391 54.66L391.5 54.75L392 54.83L392.5 54.92L393 55L393.5 55.09L394 55.17L394.5 55.26L395 55.35L395.5 55.43L396 55.52L396.5 55.61L397 55.7L397.5 55.79L398 55.88L398.5 55.97L399 56.06L399.5 56.15L400 56.24L400.5 56.34L401 56.43L401.5 56.52L402 56.62L402.5 56.71L403 56.81L403.5 56.9L404 57L404.5 57.1L405 57.19L405.5 57.29L406 57.39L406.5 57.49L407 57.59L407.5 57.69L408 57.79L408.5 57.89L409 57.99L409.5 58.1L410 58.2L410.5 58.3L411 58.41L411.5 58.51L412 58.62L412.5 58.72L413 58.83L413.5 58.94L414 59.05L414.5 59.15L415 59.26L415.5 59.37L416 59.48L416.5 59.59L417 59.71L417.5 59.82L418 59.93L418.5 60.04L419 60.16L419.5 60.27L420 60.39L420.5 60.51L421 60.62L421.5 60.74L422 60.86L422.5 60.98L423 61.1L423.5 61.22L424 61.34L424.5 61.46L425 61.58L425.5 61.7L426 61.83L426.5 61.95L427 62.08L427.5 62.2L428 62.33L428.5 62.46L429 62.58L429.5 62.71L430 62.84L430.5 62.97L431 63.1L431.5 63.24L432 63.37L432.5 63.5L433 63.63L433.5 63.77L434 63.9L434.5 64.04L435 64.18L435.5 64.32L436 64.45L436.5 64.59L437 64.73L437.5 64.87L438 65.02L438.5 65.16L439 65.3L439.5 65.45L440 65.59L440.5 65.74L441 65.88L441.5 66.03L442 66.18L442.5 66.33L443 66.48L443.5 66.63L444 66.78L444.5 66.93L445 67.09L445.5 67.24L446 67.4L446.5 67.55L447 67.71L447.5 67.87L448 68.03L448.5 68.19L449 68.35L449.5 68.51L450 68.67L450.5 68.83L451 69L451.5 69.16L452 69.33L452.5 69.5L453 69.67L453.5 69.83L454 70L454.5 70.18L455 70.35L455.5 70.52L456 70.69L456.5 70.87L457 71.05L457.5 71.22L458 71.4L458.5 71.58L459 71.76L459.5 71.94L460 72.12L460.5 72.3L461 72.49L461.5 72.67L462 72.86L462.5 73.05L463 73.24L463.5 73.43L464 73.62L464.5 73.81L465 74L465.5 74.19L466 74.39L466.5 74.58L467 74.78L467.5 74.98L468 75.18L468.5 75.38L469 75.58L469.5 75.78L470 75.99L470.5 76.19L471 76.4L471.5 76.61L472 76.81L472.5 77.02L473 77.24L473.5 77.45L474 77.66L474.5 77.88L475 78.09L475.5 78.31L476 78.53L476.5 78.75L477 78.97L477.5 79.19L478 79.41L478.5 79.64L479 79.86L479.5 80.09L480 80.32L480.5 80.55L481 80.78L481.5 81.01L482 81.25L482.5 81.48L483 81.72L483.5 81.95L484 82.19L484.5 82.43L485 82.68L485.5 82.92L486 83.16L486.5 83.41L487 83.66L487.5 83.91L488 84.16L488.5 84.41L489 84.66L489.5 84.91L490 85.17L490.5 85.43L491 85.69L491.5 85.95L492 86.21L492.5 86.47L493 86.74L493.5 87L494 87.27L494.5 87.54L495 87.81L495.5 88.08L496 88.36L496.5 88.63L497 88.91L497.5 89.19L498 89.47L498.5 89.75L499 90.03L499.5 90.32L500 90.61L500.5 90.89L501 91.18L501.5 91.48L502 91.77L502.5 92.06L503 92.36L503.5 92.66L504 92.96L504.5 93.26L505 93.57L505.5 93.87L506 94.18L506.5 94.49L507 94.8L507.5 95.11L508 95.42L508.5 95.74L509 96.06L509.5 96.38L510 96.7L510.5 97.02L511 97.34L511.5 97.67L512 98L512.5 98.33L513 98.66L513.5 99L514 99.33L514.5 99.67L515 100.01L515.5 100.35L516 100.7L516.5 101.04L517 101.39L517.5 101.74L518 102.09L518.5 102.45L519 102.8L519.5 103.16L520 103.52" stroke="#edb120" stroke-width="2.6" fill="none" stroke-dasharray="10 9.7"/></g>
<circle cx="444.5" cy="64.4" r="3.9" fill="none" stroke="#77ac30" stroke-width="2.4"/>
<rect x="341.5" y="7.2" width="180.4" height="142.1" fill="none" stroke="#404040" stroke-width="0.75"/>
<line x1="351.29" y1="149.3" x2="351.29" y2="147.3" stroke="#262626" stroke-width="0.6"/>
<line x1="351.29" y1="7.2" x2="351.29" y2="9.2" stroke="#262626" stroke-width="0.6"/>
<line x1="403.06" y1="149.3" x2="403.06" y2="147.3" stroke="#262626" stroke-width="0.6"/>
<line x1="403.06" y1="7.2" x2="403.06" y2="9.2" stroke="#262626" stroke-width="0.6"/>
<line x1="454.83" y1="149.3" x2="454.83" y2="147.3" stroke="#262626" stroke-width="0.6"/>
<line x1="454.83" y1="7.2" x2="454.83" y2="9.2" stroke="#262626" stroke-width="0.6"/>
<line x1="506.6" y1="149.3" x2="506.6" y2="147.3" stroke="#262626" stroke-width="0.6"/>
<line x1="506.6" y1="7.2" x2="506.6" y2="9.2" stroke="#262626" stroke-width="0.6"/>
<line x1="341.5" y1="6.98" x2="343.5" y2="6.98" stroke="#262626" stroke-width="0.6"/>
<line x1="521.9" y1="6.98" x2="519.9" y2="6.98" stroke="#262626" stroke-width="0.6"/>
<line x1="341.5" y1="35.44" x2="343.5" y2="35.44" stroke="#262626" stroke-width="0.6"/>
<line x1="521.9" y1="35.44" x2="519.9" y2="35.44" stroke="#262626" stroke-width="0.6"/>
<line x1="341.5" y1="63.9" x2="343.5" y2="63.9" stroke="#262626" stroke-width="0.6"/>
<line x1="521.9" y1="63.9" x2="519.9" y2="63.9" stroke="#262626" stroke-width="0.6"/>
<line x1="341.5" y1="92.36" x2="343.5" y2="92.36" stroke="#262626" stroke-width="0.6"/>
<line x1="521.9" y1="92.36" x2="519.9" y2="92.36" stroke="#262626" stroke-width="0.6"/>
<line x1="341.5" y1="120.82" x2="343.5" y2="120.82" stroke="#262626" stroke-width="0.6"/>
<line x1="521.9" y1="120.82" x2="519.9" y2="120.82" stroke="#262626" stroke-width="0.6"/>
<line x1="341.5" y1="149.28" x2="343.5" y2="149.28" stroke="#262626" stroke-width="0.6"/>
<line x1="521.9" y1="149.28" x2="519.9" y2="149.28" stroke="#262626" stroke-width="0.6"/>
<text x="336.69" y="165.3" font-size="12" fill="#262626" textLength="28.65" lengthAdjust="spacing">−300</text>
<text x="388.46" y="165.3" font-size="12" fill="#262626" textLength="28.65" lengthAdjust="spacing">−200</text>
<text x="440.23" y="165.3" font-size="12" fill="#262626" textLength="28.65" lengthAdjust="spacing">−100</text>
<text x="503.22" y="165.3" font-size="12" fill="#262626" textLength="6.72" lengthAdjust="spacingAndGlyphs">0</text>
<text x="319.32" y="11.58" font-size="12" fill="#262626" textLength="17.64" lengthAdjust="spacing">0.4</text>
<text x="319.32" y="40.04" font-size="12" fill="#262626" textLength="17.88" lengthAdjust="spacing">0.2</text>
<text x="330.1" y="68.9" font-size="12" fill="#262626" textLength="6.95" lengthAdjust="spacingAndGlyphs">0</text>
<text x="312.6" y="97.66" font-size="12" fill="#262626" textLength="24.79" lengthAdjust="spacing">−0.2</text>
<text x="312.6" y="126.12" font-size="12" fill="#262626" textLength="24.55" lengthAdjust="spacing">−0.4</text>
<text x="312.6" y="154.58" font-size="12" fill="#262626" textLength="24.67" lengthAdjust="spacing">−0.6</text>
<text x="0" y="0" font-size="12" fill="#262626" textLength="67.8" lengthAdjust="spacing" transform="translate(308 113.2) rotate(-90)">Current [A]</text>
<text x="398.94" y="180.6" font-size="12" fill="#262626" textLength="65.92" lengthAdjust="spacing">Voltage [V]</text>
<text x="478.83" y="40.8" font-size="8.6" fill="#c13fd6" stroke="#c13fd6" stroke-width="0.35" textLength="2.39" lengthAdjust="spacingAndGlyphs">I</text>
<text x="482.48" y="45.8" font-size="8.2" fill="#c13fd6" stroke="#c13fd6" stroke-width="0.35" textLength="9.68" lengthAdjust="spacingAndGlyphs">sat</text>
<text x="425.26" y="74.1" font-size="10" fill="#22bb22" stroke="#22bb22" stroke-width="0.35" textLength="5.19" lengthAdjust="spacingAndGlyphs">V</text>
<text x="430.77" y="78" font-size="8.8" fill="#22bb22" stroke="#22bb22" stroke-width="0.35" textLength="4.8" lengthAdjust="spacing">fl</text>
<text x="345.95" y="126.5" font-size="10.2" fill="#ff2020" textLength="36.25" lengthAdjust="spacing">t = −23</text>
<text x="386.54" y="126.5" font-size="10.2" fill="#ff2020" font-style="italic" textLength="3.89" lengthAdjust="spacingAndGlyphs">μ</text>
<text x="391.55" y="126.5" font-size="10.2" fill="#ff2020" textLength="5.86" lengthAdjust="spacingAndGlyphs">s</text>
<text x="345.88" y="141.7" font-size="10.2" fill="#ff2020" textLength="6.64" lengthAdjust="spacingAndGlyphs">T</text>
<text x="352.86" y="136.9" font-size="8.6" fill="#ff2020" textLength="11.17" lengthAdjust="spacing">div</text>
<text x="352.27" y="146.3" font-size="8.6" fill="#ff2020" textLength="4.62" lengthAdjust="spacingAndGlyphs">e</text>
<text x="368.59" y="141.8" font-size="10.2" fill="#ff2020" textLength="100.27" lengthAdjust="spacing">= 124&lt;134&lt;147 eV</text>
<text x="284.85" y="183" font-size="13.8" fill="#000" font-weight="bold" textLength="13.03" lengthAdjust="spacing">b)</text>
<rect x="55.6" y="223.7" width="33.74" height="21.3" fill="#3e26a8" stroke="#1a1a2a" stroke-width="0.6"/>
<rect x="89.34" y="193.3" width="33.74" height="51.7" fill="#3e26a8" stroke="#1a1a2a" stroke-width="0.6"/>
<rect x="123.08" y="215.5" width="33.74" height="29.5" fill="#3e26a8" stroke="#1a1a2a" stroke-width="0.6"/>
<rect x="156.82" y="220.6" width="33.74" height="24.4" fill="#3e26a8" stroke="#1a1a2a" stroke-width="0.6"/>
<rect x="190.56" y="237" width="33.74" height="8" fill="#3e26a8" stroke="#1a1a2a" stroke-width="0.6"/>
<line x1="91.7" y1="191.3" x2="91.7" y2="245.0" stroke="#ff0000" stroke-width="2"/>
<line x1="161.6" y1="191.3" x2="161.6" y2="245.0" stroke="#ff0000" stroke-width="2"/>
<line x1="122.8" y1="191.3" x2="122.8" y2="245.0" stroke="#00c800" stroke-width="2"/>
<line x1="122.8" y1="236" x2="97" y2="236" stroke="#a0101e" stroke-width="1"/>
<path d="M93 236L100.2 232.8L97.6 236L100.2 239.2Z" fill="#a0101e" stroke="#a0101e" stroke-width="0.7" stroke-linejoin="round"/>
<line x1="122.8" y1="236" x2="156.8" y2="236" stroke="#a0101e" stroke-width="1"/>
<path d="M160.8 236L153.6 232.8L156.2 236L153.6 239.2Z" fill="#a0101e" stroke="#a0101e" stroke-width="0.7" stroke-linejoin="round"/>
<text x="103.56" y="231.6" font-size="9" fill="#a0101e" textLength="11.88" lengthAdjust="spacingAndGlyphs">1/3</text>
<text x="134.96" y="231.6" font-size="9" fill="#a0101e" textLength="11.88" lengthAdjust="spacingAndGlyphs">1/3</text>
<rect x="53.5" y="191.3" width="205.8" height="53.7" fill="none" stroke="#404040" stroke-width="0.75"/>
<line x1="53.5" y1="245" x2="53.5" y2="243.2" stroke="#262626" stroke-width="0.6"/>
<line x1="53.5" y1="191.3" x2="53.5" y2="193.1" stroke="#262626" stroke-width="0.6"/>
<line x1="94.66" y1="245" x2="94.66" y2="243.2" stroke="#262626" stroke-width="0.6"/>
<line x1="94.66" y1="191.3" x2="94.66" y2="193.1" stroke="#262626" stroke-width="0.6"/>
<line x1="135.82" y1="245" x2="135.82" y2="243.2" stroke="#262626" stroke-width="0.6"/>
<line x1="135.82" y1="191.3" x2="135.82" y2="193.1" stroke="#262626" stroke-width="0.6"/>
<line x1="176.98" y1="245" x2="176.98" y2="243.2" stroke="#262626" stroke-width="0.6"/>
<line x1="176.98" y1="191.3" x2="176.98" y2="193.1" stroke="#262626" stroke-width="0.6"/>
<line x1="218.14" y1="245" x2="218.14" y2="243.2" stroke="#262626" stroke-width="0.6"/>
<line x1="218.14" y1="191.3" x2="218.14" y2="193.1" stroke="#262626" stroke-width="0.6"/>
<line x1="259.3" y1="245" x2="259.3" y2="243.2" stroke="#262626" stroke-width="0.6"/>
<line x1="259.3" y1="191.3" x2="259.3" y2="193.1" stroke="#262626" stroke-width="0.6"/>
<line x1="53.5" y1="245" x2="55.3" y2="245" stroke="#262626" stroke-width="0.6"/>
<line x1="259.3" y1="245" x2="257.5" y2="245" stroke="#262626" stroke-width="0.6"/>
<line x1="53.5" y1="218.15" x2="55.3" y2="218.15" stroke="#262626" stroke-width="0.6"/>
<line x1="259.3" y1="218.15" x2="257.5" y2="218.15" stroke="#262626" stroke-width="0.6"/>
<line x1="53.5" y1="191.3" x2="55.3" y2="191.3" stroke="#262626" stroke-width="0.6"/>
<line x1="259.3" y1="191.3" x2="257.5" y2="191.3" stroke="#262626" stroke-width="0.6"/>
<text x="48.89" y="256" font-size="8.5" fill="#262626" textLength="9.16" lengthAdjust="spacingAndGlyphs">23</text>
<text x="90.05" y="256" font-size="8.5" fill="#262626" textLength="9.07" lengthAdjust="spacingAndGlyphs">24</text>
<text x="131.21" y="256" font-size="8.5" fill="#262626" textLength="9.16" lengthAdjust="spacingAndGlyphs">25</text>
<text x="172.37" y="256" font-size="8.5" fill="#262626" textLength="9.16" lengthAdjust="spacingAndGlyphs">26</text>
<text x="213.52" y="256" font-size="8.5" fill="#262626" textLength="9.25" lengthAdjust="spacingAndGlyphs">27</text>
<text x="254.69" y="256" font-size="8.5" fill="#262626" textLength="9.16" lengthAdjust="spacingAndGlyphs">28</text>
<text x="41.05" y="194.3" font-size="8.5" fill="#262626" textLength="8.43" lengthAdjust="spacingAndGlyphs">40</text>
<text x="40.81" y="221.15" font-size="8.5" fill="#262626" textLength="8.68" lengthAdjust="spacingAndGlyphs">20</text>
<text x="44.97" y="248" font-size="8.5" fill="#262626" textLength="4.52" lengthAdjust="spacingAndGlyphs">0</text>
<text x="0" y="0" font-size="9" fill="#262626" textLength="47.44" lengthAdjust="spacing" transform="translate(36.2 241.81) rotate(-90)">Occurrence</text>
<text x="120.48" y="267.8" font-size="9" fill="#262626" textLength="39.38" lengthAdjust="spacing">Bootstrap</text>
<text x="162.21" y="267.8" font-size="9.5" fill="#262626" textLength="5.8" lengthAdjust="spacingAndGlyphs">T</text>
<text x="169.09" y="271.6" font-size="7.5" fill="#262626" textLength="4.26" lengthAdjust="spacingAndGlyphs">e</text>
<text x="175.97" y="267.8" font-size="9" fill="#262626" textLength="16.89" lengthAdjust="spacing">[eV]</text>
<text x="-0.69" y="271.8" font-size="13.8" fill="#000" font-weight="bold" textLength="12.27" lengthAdjust="spacing">c)</text>
<rect x="340.8" y="231.75" width="17.2" height="16.25" fill="#3e26a8" stroke="#1a1a2a" stroke-width="0.6"/>
<rect x="358" y="229" width="17.2" height="19" fill="#3e26a8" stroke="#1a1a2a" stroke-width="0.6"/>
<rect x="375.2" y="212.5" width="17.2" height="35.5" fill="#3e26a8" stroke="#1a1a2a" stroke-width="0.6"/>
<rect x="392.4" y="193.6" width="17.2" height="54.4" fill="#3e26a8" stroke="#1a1a2a" stroke-width="0.6"/>
<rect x="409.6" y="193.6" width="17.2" height="54.4" fill="#3e26a8" stroke="#1a1a2a" stroke-width="0.6"/>
<rect x="426.8" y="215.8" width="17.2" height="32.2" fill="#3e26a8" stroke="#1a1a2a" stroke-width="0.6"/>
<rect x="444" y="229" width="17.2" height="19" fill="#3e26a8" stroke="#1a1a2a" stroke-width="0.6"/>
<rect x="461.2" y="231.7" width="17.2" height="16.3" fill="#3e26a8" stroke="#1a1a2a" stroke-width="0.6"/>
<rect x="478.4" y="231.7" width="17.2" height="16.3" fill="#3e26a8" stroke="#1a1a2a" stroke-width="0.6"/>
<rect x="495.6" y="240.4" width="17.2" height="7.6" fill="#3e26a8" stroke="#1a1a2a" stroke-width="0.6"/>
<line x1="381" y1="193.6" x2="381" y2="248.0" stroke="#ff0000" stroke-width="2"/>
<line x1="451.4" y1="193.6" x2="451.4" y2="248.0" stroke="#ff0000" stroke-width="2"/>
<line x1="414.6" y1="193.6" x2="414.6" y2="248.0" stroke="#00c800" stroke-width="2"/>
<line x1="414.6" y1="232.7" x2="386.5" y2="232.7" stroke="#a0101e" stroke-width="1"/>
<path d="M382.5 232.7L389.7 229.5L387.1 232.7L389.7 235.9Z" fill="#a0101e" stroke="#a0101e" stroke-width="0.7" stroke-linejoin="round"/>
<line x1="414.6" y1="232.7" x2="446.8" y2="232.7" stroke="#a0101e" stroke-width="1"/>
<path d="M450.8 232.7L443.6 229.5L446.2 232.7L443.6 235.9Z" fill="#a0101e" stroke="#a0101e" stroke-width="0.7" stroke-linejoin="round"/>
<text x="395.24" y="242.8" font-size="9" fill="#a0101e" textLength="12.21" lengthAdjust="spacingAndGlyphs">1/3</text>
<text x="432.04" y="242.8" font-size="9" fill="#a0101e" textLength="12.21" lengthAdjust="spacingAndGlyphs">1/3</text>
<rect x="339.8" y="193.6" width="183.5" height="54.4" fill="none" stroke="#404040" stroke-width="0.75"/>
<line x1="339.8" y1="248" x2="339.8" y2="246.2" stroke="#262626" stroke-width="0.6"/>
<line x1="339.8" y1="193.6" x2="339.8" y2="195.4" stroke="#262626" stroke-width="0.6"/>
<line x1="370.38" y1="248" x2="370.38" y2="246.2" stroke="#262626" stroke-width="0.6"/>
<line x1="370.38" y1="193.6" x2="370.38" y2="195.4" stroke="#262626" stroke-width="0.6"/>
<line x1="400.96" y1="248" x2="400.96" y2="246.2" stroke="#262626" stroke-width="0.6"/>
<line x1="400.96" y1="193.6" x2="400.96" y2="195.4" stroke="#262626" stroke-width="0.6"/>
<line x1="431.54" y1="248" x2="431.54" y2="246.2" stroke="#262626" stroke-width="0.6"/>
<line x1="431.54" y1="193.6" x2="431.54" y2="195.4" stroke="#262626" stroke-width="0.6"/>
<line x1="462.12" y1="248" x2="462.12" y2="246.2" stroke="#262626" stroke-width="0.6"/>
<line x1="462.12" y1="193.6" x2="462.12" y2="195.4" stroke="#262626" stroke-width="0.6"/>
<line x1="492.7" y1="248" x2="492.7" y2="246.2" stroke="#262626" stroke-width="0.6"/>
<line x1="492.7" y1="193.6" x2="492.7" y2="195.4" stroke="#262626" stroke-width="0.6"/>
<line x1="523.28" y1="248" x2="523.28" y2="246.2" stroke="#262626" stroke-width="0.6"/>
<line x1="523.28" y1="193.6" x2="523.28" y2="195.4" stroke="#262626" stroke-width="0.6"/>
<line x1="339.8" y1="248" x2="341.6" y2="248" stroke="#262626" stroke-width="0.6"/>
<line x1="523.3" y1="248" x2="521.5" y2="248" stroke="#262626" stroke-width="0.6"/>
<line x1="339.8" y1="220.8" x2="341.6" y2="220.8" stroke="#262626" stroke-width="0.6"/>
<line x1="523.3" y1="220.8" x2="521.5" y2="220.8" stroke="#262626" stroke-width="0.6"/>
<line x1="339.8" y1="193.6" x2="341.6" y2="193.6" stroke="#262626" stroke-width="0.6"/>
<line x1="523.3" y1="193.6" x2="521.5" y2="193.6" stroke="#262626" stroke-width="0.6"/>
<text x="332.76" y="259" font-size="8.5" fill="#262626" textLength="13.73" lengthAdjust="spacing">110</text>
<text x="363.36" y="259" font-size="8.5" fill="#262626" textLength="13.73" lengthAdjust="spacingAndGlyphs">120</text>
<text x="393.94" y="259" font-size="8.5" fill="#262626" textLength="13.73" lengthAdjust="spacingAndGlyphs">130</text>
<text x="424.52" y="259" font-size="8.5" fill="#262626" textLength="13.73" lengthAdjust="spacingAndGlyphs">140</text>
<text x="455.1" y="259" font-size="8.5" fill="#262626" textLength="13.73" lengthAdjust="spacingAndGlyphs">150</text>
<text x="485.68" y="259" font-size="8.5" fill="#262626" textLength="13.73" lengthAdjust="spacingAndGlyphs">160</text>
<text x="516.26" y="259" font-size="8.5" fill="#262626" textLength="13.73" lengthAdjust="spacingAndGlyphs">170</text>
<text x="327.82" y="196.6" font-size="8.5" fill="#262626" textLength="8.36" lengthAdjust="spacingAndGlyphs">20</text>
<text x="327.62" y="223.8" font-size="8.5" fill="#262626" textLength="8.57" lengthAdjust="spacingAndGlyphs">10</text>
<text x="331.68" y="251" font-size="8.5" fill="#262626" textLength="4.52" lengthAdjust="spacingAndGlyphs">0</text>
<text x="0" y="0" font-size="9" fill="#262626" textLength="45.32" lengthAdjust="spacingAndGlyphs" transform="translate(323.4 243.79) rotate(-90)">Occurrence</text>
<text x="396.18" y="270.1" font-size="9" fill="#262626" textLength="38.98" lengthAdjust="spacing">Bootstrap</text>
<text x="436.61" y="270.1" font-size="9.5" fill="#262626" textLength="5.8" lengthAdjust="spacingAndGlyphs">T</text>
<text x="444.09" y="274.3" font-size="7.5" fill="#262626" textLength="4.26" lengthAdjust="spacingAndGlyphs">e</text>
<text x="450.17" y="270.1" font-size="9" fill="#262626" textLength="16.09" lengthAdjust="spacing">[eV]</text>
<text x="285.45" y="272.3" font-size="13.8" fill="#000" font-weight="bold" textLength="13.03" lengthAdjust="spacingAndGlyphs">d)</text>
</svg></body></html>
